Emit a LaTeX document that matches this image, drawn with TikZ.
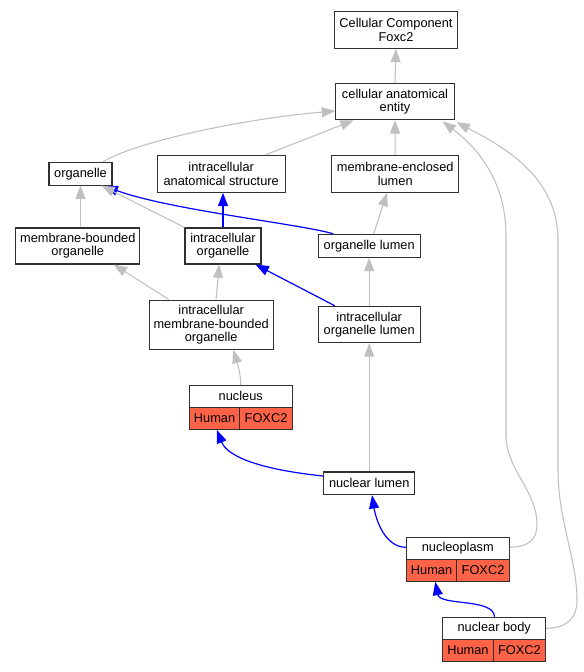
\documentclass[tikz,border=0pt]{standalone}
\usepackage{fontspec}
\setmainfont{Liberation Sans}
\usetikzlibrary{arrows.meta,calc}
\definecolor{edgegray}{HTML}{C0C0C0}
\definecolor{edgeblue}{HTML}{0000FF}
\definecolor{tomatored}{HTML}{FF6347}
\definecolor{boxline}{HTML}{303030}
\begin{document}
\begin{tikzpicture}[x=0.75pt,y=-0.75pt,
  box/.style={draw=boxline,line width=0.8pt,fill=white,align=center,inner sep=0pt,
    font=\fontsize{9.6}{10}\selectfont},
  cell/.style={box,fill=tomatored,minimum height=16.5pt},
  ttl/.style={box,minimum width=77.25pt,minimum height=16.5pt},
  ge/.style={draw=edgegray,line width=0.8pt,-{Triangle[length=10pt,width=7.5pt]}},
  be/.style={draw=edgeblue,line width=0.9pt,-{Triangle[length=10pt,width=7.5pt]}}]
\useasboundingbox (0,0) rectangle (584,672);
\fill[white] (0,0) rectangle (584,672);
% nodes
\node[box,minimum width=92.55pt,minimum height=27.45pt] (cc) at (396,30) {Cellular Component\\Foxc2};
\node[box,minimum width=88.95pt,minimum height=27pt] (cae) at (395,101.7) {cellular anatomical\\entity};
\node[box,minimum width=47.25pt,minimum height=17pt] (org) at (80.5,173.7) {organelle};
\node[box,minimum width=96.2pt,minimum height=27.75pt] (ias) at (221.2,173.8) {intracellular\\anatomical structure};
\node[box,minimum width=95.25pt,minimum height=27.75pt] (mel) at (395.2,173.8) {membrane-enclosed\\lumen};
\node[box,minimum width=93.2pt,minimum height=27pt] (mbo) at (77.8,246) {membrane-bounded\\organelle};
\node[box,minimum width=57pt,minimum height=27pt] (io) at (223,246) {intracellular\\organelle};
\node[box,minimum width=76.3pt,minimum height=17.25pt] (ol) at (369.2,245.8) {organelle lumen};
\node[box,minimum width=93.2pt,minimum height=37pt] (imbo) at (211.2,324.7) {intracellular\\membrane-bounded\\organelle};
\node[box,minimum width=76.3pt,minimum height=27.3pt] (iol) at (369.2,324.5) {intracellular\\organelle lumen};
\node[box,minimum width=68.25pt,minimum height=17pt] (nl) at (369.2,483.3) {nuclear lumen};
% tables
\node[ttl] (nut) at (240.8,396.3) {nucleus};
\node[cell,minimum width=37.9pt] (nuh) at (214.55,418.3) {Human};
\node[cell,minimum width=39.4pt] (nuf) at (266.05,418.3) {FOXC2};
\node[ttl] (npt) at (457.8,548.3) {nucleoplasm};
\node[cell,minimum width=37.9pt] (nph) at (431.55,570.3) {Human};
\node[cell,minimum width=39.4pt] (npf) at (483.05,570.3) {FOXC2};
\node[ttl] (nbt) at (494.2,628.3) {nuclear body};
\node[cell,minimum width=37.9pt] (nbh) at (467.95,650.3) {Human};
\node[cell,minimum width=39.4pt] (nbf) at (519.45,650.3) {FOXC2};
% edges
\draw[ge] (cae.north) -- (cc.south);
\draw[ge] ($(org.north)+(22.2,0)$) .. controls (140,140) and (250,118) .. ($(cae.west)+(0,9.3)$);
\draw[ge] ($(ias.north)+(44.5,0)$) -- ($(cae.south)+(-41.3,0)$);
\draw[ge] (mel.north) -- (cae.south);
\draw[ge] ($(npt.east)+(0,-1)$) .. controls (528,547) and (537,540) .. (537,525)
   .. controls (537,490) and (506,470) .. (506,435) -- (506,235)
   .. controls (506,175) and (470,142) .. ($(cae.south east)+(-12.3,1.3)$);
\draw[ge] (nbt.east) .. controls (565,628) and (577,620) .. (577,600)
   .. controls (577,560) and (558,520) .. (558,470) -- (558,240)
   .. controls (558,175) and (500,145) .. ($(cae.south east)+(1.7,2)$);
\draw[be] ($(ol.north west)+(15.4,0)$) .. controls (300,224) and (170,210) .. ($(org.south east)+(-8,0.5)$);
\draw[ge] (org.south |- mbo.north) -- (org.south);
\draw[ge] (io.north west) -- ($(org.south east)+(-11,0)$);
\draw[be] (io.north) -- (io.north |- ias.south);
\draw[ge] ($(ol.north)+(4.5,0)$) -- ($(mel.south)+(-8.2,0)$);
\draw[ge] (iol.north) -- (ol.south);
\draw[be] ($(iol.north west)+(17,0)$) -- ($(io.south east)+(-6,0)$);
\draw[ge] ($(imbo.north west)+(20.3,0)$) -- ($(mbo.south east)+(-26.7,0)$);
\draw[ge] ($(imbo.north)+(4.8,0)$) -- ($(io.south)+(-3.7,0)$);
\draw[ge] (nut.north) .. controls (240.7,375) and (238,365) .. ($(imbo.south)+(22,0)$);
\draw[ge] (nl.north) -- (iol.south);
\draw[be] ($(nl.west)+(0,-7.3)$) .. controls (265,470) and (228,458) .. ($(nuh.south)+(2.2,0)$);
\draw[be] ($(npt.west)+(0,-1)$) .. controls (385,547) and (376,520) .. ($(nl.south)+(2.8,0)$);
\draw[be] ($(nbt.north)+(0.3,0)$) .. controls (494,598) and (440,606) .. ($(nph.south)+(3.75,0)$);
\end{tikzpicture}
\end{document}
